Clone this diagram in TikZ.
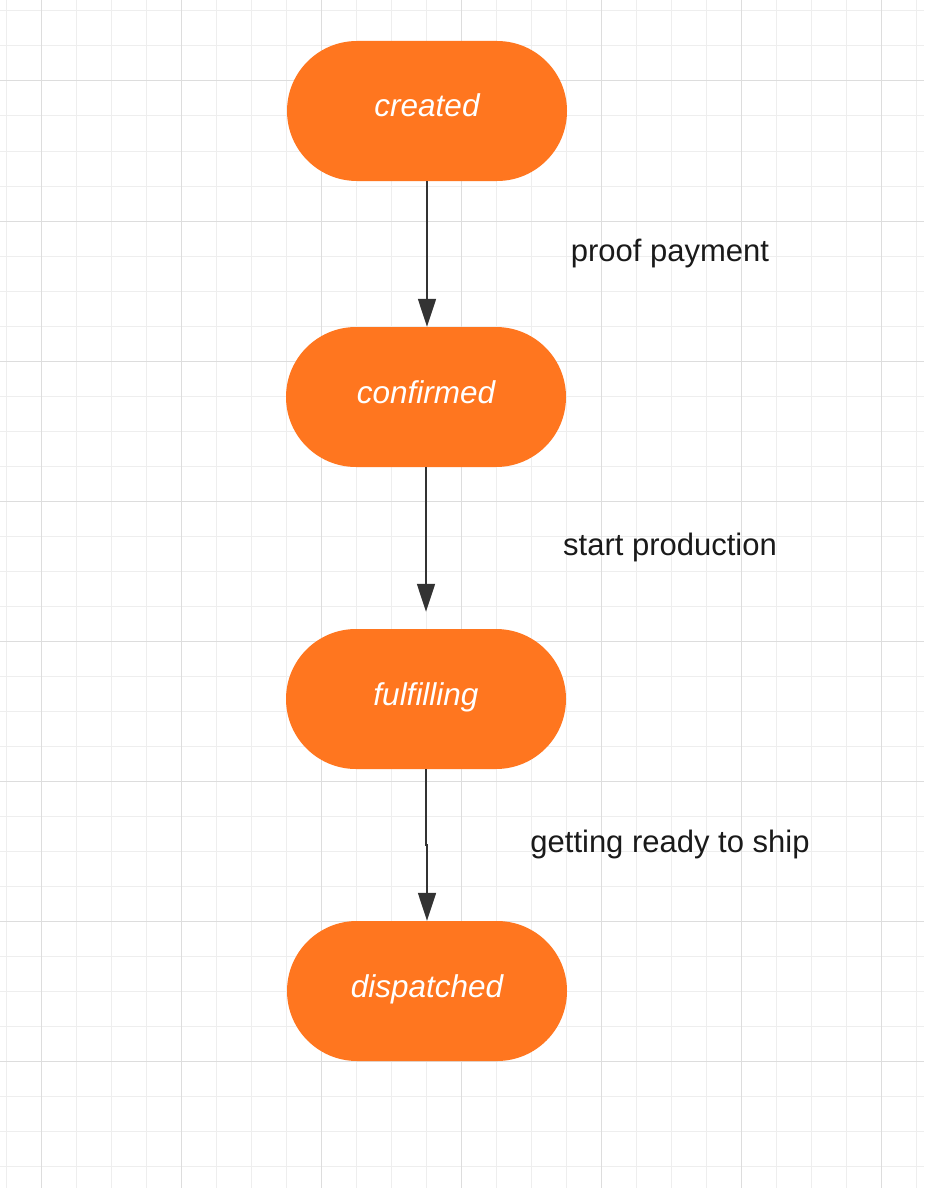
\documentclass[tikz,border=0pt]{standalone}
\usepackage{fontspec}
\setmainfont{Liberation Sans}
\usetikzlibrary{arrows.meta}
\definecolor{stateorange}{RGB}{255,118,31}
\definecolor{arrowgrey}{RGB}{51,51,51}
\definecolor{labelblack}{RGB}{26,26,26}
\definecolor{gridminor}{RGB}{238,238,238}
\definecolor{gridmajor}{RGB}{221,221,221}

\begin{document}
\begin{tikzpicture}[x=1pt,y=-1pt,
  state/.style={fill=stateorange, rounded corners=70pt, minimum width=280pt, minimum height=140pt,
    inner sep=0pt, text=white, font=\fontsize{31.5}{36}\selectfont\itshape, text height=22pt, text depth=10pt},
  flow/.style={draw=arrowgrey, line width=1.6pt, -{Triangle[length=28pt,width=18pt]}},
  event/.style={text=labelblack, font=\fontsize{31}{36}\selectfont, anchor=base}]
\useasboundingbox (0,0) rectangle (924,1188);
\fill[white] (0,0) rectangle (924,1188);

% background grid
\foreach \x in {6,41,...,916} \draw[gridminor, line width=1pt] (\x,0) -- (\x,1188);
\foreach \y in {11,46,...,1166} \draw[gridminor, line width=1pt] (0,\y) -- (924,\y);
\foreach \x in {41,181,...,881} \draw[gridmajor, line width=1pt] (\x,0) -- (\x,1188);
\foreach \y in {81,221,...,1061} \draw[gridmajor, line width=1pt] (0,\y) -- (924,\y);

% states
\node[state] (created) at (427,111) {created};
\node[state] (confirmed) at (426,397) {confirmed};
\node[state] (fulfilling) at (426,699) {fulfilling};
\node[state] (dispatched) at (427,991) {dispatched};

% transitions
\draw[flow] (created.south) -- (created.south |- confirmed.north);
\draw[flow, shorten >=17pt] (confirmed) -- (fulfilling);
\coordinate (jog) at (427,845);
\draw[flow] (fulfilling.south) |- (jog) -- (dispatched.north);

\node[event] (payment) at (670,261) {proof payment};
\node[event] (production) at (670,555) {start production};
\node[event] (ship) at (670,852) {getting ready to ship};
\end{tikzpicture}
\end{document}
